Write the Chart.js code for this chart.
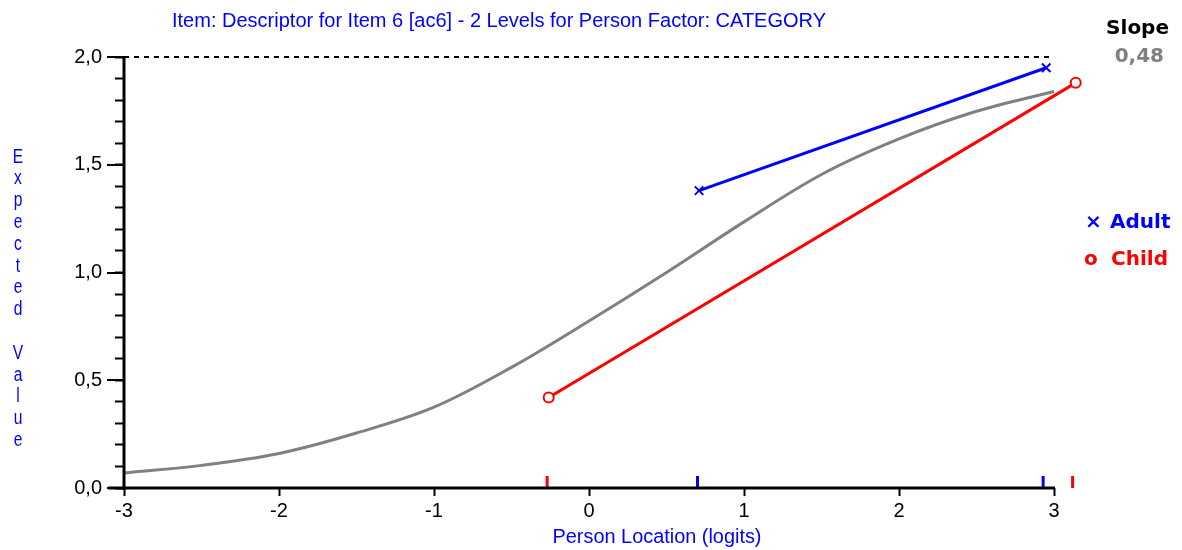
<!DOCTYPE html>
<html lang="en">
<head>
<meta charset="utf-8">
<title>Item 6 [ac6] - CATEGORY</title>
<script src="https://cdn.jsdelivr.net/npm/chart.js@4.4.1/dist/chart.umd.min.js"></script>
<style>
    html, body { margin: 0; padding: 0; background: #fff; }
    canvas { display: block; }
</style>
</head>
<body>
<canvas id="grafico-icc" width="1182" height="550"></canvas>
<script>
/* Dados (curva esperada + médias por grupo) */
const curvaX = [-3, -2.5, -2, -1.5, -1, -0.5, 0, 0.5, 1, 1.5, 2, 2.5, 3];
const curvaY = [0.07, 0.105, 0.16, 0.255, 0.375, 0.56, 0.775, 1.0, 1.235, 1.455, 1.62, 1.748, 1.84];

const adultoX = [0.71, 2.95];
const adultoY = [1.38, 1.95];
const criancaX = [-0.26, 3.14];
const criancaY = [0.42, 1.88];

// marcas coloridas sobre o eixo x
const marcasAdulto = [0.70, 2.93];
const marcasCrianca = [-0.27, 3.12];

const ticksX = [-3, -2, -1, 0, 1, 2, 3];
const ticksY = [0, 0.1, 0.2, 0.3, 0.4, 0.5, 0.6, 0.7, 0.8, 0.9, 1.0, 1.1, 1.2, 1.3, 1.4, 1.5, 1.6, 1.7, 1.8, 1.9, 2.0];
const ticksYPrincipais = [0, 0.5, 1.0, 1.5, 2.0];
const limiteSuperior = [2, 2];

const titulo = 'Item: Descriptor for Item 6 [ac6] - 2 Levels for Person Factor: CATEGORY';
const tituloX = 'Person Location (logits)';
const tituloY = 'Expected Value';
const inclinacao = '0,48';
const grupos = ['Adult', 'Child'];

const AZUL = '#0000FF';
const VERMELHO = '#FF0000';
const CINZA = '#808080';
const FONTE_TICK = "'Liberation Sans', Arial, sans-serif";

const pares = (xs, ys) => xs.map((x, i) => ({ x: x, y: ys[i] }));
const formatarY = v => v.toFixed(1).replace('.', ',');
const ehPrincipal = v => ticksYPrincipais.some(p => Math.abs(p - v) < 1e-6);

// escreve o texto centrado, comprimido na horizontal até a largura pedida
function textoAjustado(ctx, texto, cx, cy, largura) {
    const medida = ctx.measureText(texto).width;
    ctx.save();
    ctx.translate(cx, cy);
    ctx.scale(largura / medida, 1);
    ctx.textAlign = 'center';
    ctx.fillText(texto, 0, 0);
    ctx.restore();
}

/* Plugin: eixos grossos, títulos e legenda à direita */
const pluginDecoracao = {
    id: 'decoracao',
    afterDraw(chart) {
        const ctx = chart.ctx;
        const area = chart.chartArea;
        const sx = chart.scales.x;
        const sy = chart.scales.y;
        ctx.save();

        // eixo y
        ctx.strokeStyle = '#000';
        ctx.lineWidth = 3;
        ctx.beginPath();
        ctx.moveTo(area.left, sy.getPixelForValue(2) - 1);
        ctx.lineTo(area.left, area.bottom + 2);
        ctx.stroke();

        // eixo x (até 3)
        ctx.beginPath();
        ctx.moveTo(area.left - 16, area.bottom);
        ctx.lineTo(sx.getPixelForValue(3) + 1, area.bottom);
        ctx.stroke();

        // ticks principais do eixo y mais longos
        ctx.lineWidth = 2;
        ticksYPrincipais.forEach(v => {
            const py = Math.round(sy.getPixelForValue(v));
            ctx.beginPath();
            ctx.moveTo(area.left - 17, py);
            ctx.lineTo(area.left, py);
            ctx.stroke();
        });

        // título e título do eixo x
        ctx.fillStyle = AZUL;
        ctx.textBaseline = 'middle';
        ctx.font = "20px 'Liberation Sans', Arial, sans-serif";
        textoAjustado(ctx, titulo, 499, 21, 654);
        textoAjustado(ctx, tituloX, 657, 537, 209);

        // título do eixo y, letra por letra
        tituloY.split('').forEach((letra, i) => {
            if (letra === ' ') return;
            textoAjustado(ctx, letra, 18, 157 + i * 21.8, ctx.measureText(letra).width * 0.78);
        });

        // legenda
        ctx.font = "bold 20px 'DejaVu Sans', sans-serif";
        ctx.textAlign = 'right';
        ctx.fillStyle = '#000';
        ctx.fillText('Slope', 1169, 29);
        ctx.fillStyle = CINZA;
        ctx.fillText(inclinacao, 1164, 57);

        ctx.textAlign = 'left';
        ctx.fillStyle = AZUL;
        ctx.fillText('\u00d7', 1085, 223);
        ctx.fillText(grupos[0], 1110, 223);
        ctx.fillStyle = VERMELHO;
        ctx.fillText('o', 1084, 260);
        ctx.fillText(grupos[1], 1111, 260);

        ctx.restore();
    }
};

function inicializarGrafico() {
    const canvas = document.getElementById('grafico-icc');

    new Chart(canvas, {
        type: 'line',
        data: {
            datasets: [
                {
                    label: grupos[0],
                    data: pares(adultoX, adultoY),
                    borderColor: AZUL,
                    borderWidth: 3,
                    pointStyle: 'crossRot',
                    pointRadius: 6,
                    pointBorderWidth: 2,
                    pointBorderColor: AZUL,
                    clip: false
                },
                {
                    label: grupos[1],
                    data: pares(criancaX, criancaY),
                    borderColor: VERMELHO,
                    borderWidth: 3,
                    pointStyle: 'circle',
                    pointRadius: 5,
                    pointBorderWidth: 2,
                    pointBorderColor: VERMELHO,
                    pointBackgroundColor: '#fff',
                    clip: false
                },
                {
                    label: 'marcas adulto',
                    data: marcasAdulto.map(x => ({ x: x, y: 0.028 })),
                    showLine: false,
                    pointStyle: 'line',
                    rotation: 90,
                    pointRadius: 6,
                    pointBorderWidth: 3,
                    pointBorderColor: AZUL,
                    clip: false
                },
                {
                    label: 'marcas criança',
                    data: marcasCrianca.map(x => ({ x: x, y: 0.028 })),
                    showLine: false,
                    pointStyle: 'line',
                    rotation: 90,
                    pointRadius: 6,
                    pointBorderWidth: 3,
                    pointBorderColor: VERMELHO,
                    clip: false
                },
                {
                    label: 'esperado',
                    data: pares(curvaX, curvaY),
                    borderColor: CINZA,
                    borderWidth: 3,
                    tension: 0.35,
                    pointRadius: 0
                },
                {
                    label: 'máximo',
                    data: pares([-3, 3], limiteSuperior),
                    borderColor: '#000',
                    borderWidth: 2,
                    borderDash: [5, 5],
                    pointRadius: 0,
                    clip: false
                }
            ]
        },
        options: {
            responsive: false,
            animation: false,
            layout: { padding: { top: 57, right: 97, left: 0, bottom: 0 } },
            plugins: {
                legend: { display: false },
                tooltip: { enabled: false }
            },
            scales: {
                x: {
                    type: 'linear',
                    min: -3,
                    max: 3.2,
                    afterBuildTicks: s => { s.ticks = ticksX.map(v => ({ value: v })); },
                    afterFit: s => { s.height = 62; },
                    border: { display: false },
                    grid: {
                        drawOnChartArea: false,
                        tickLength: 8,
                        tickWidth: 2,
                        tickColor: '#000'
                    },
                    ticks: {
                        color: '#000',
                        padding: 3,
                        maxRotation: 0,
                        autoSkip: false,
                        font: { family: FONTE_TICK, size: 20 },
                        callback: v => String(v)
                    }
                },
                y: {
                    type: 'linear',
                    min: 0,
                    max: 2,
                    afterBuildTicks: s => { s.ticks = ticksY.map(v => ({ value: v })); },
                    afterFit: s => { s.width = 124; },
                    border: { display: false },
                    grid: {
                        drawOnChartArea: false,
                        tickLength: 9,
                        tickWidth: 2,
                        tickColor: '#000'
                    },
                    ticks: {
                        color: '#000',
                        padding: 13,
                        autoSkip: false,
                        font: { family: FONTE_TICK, size: 20 },
                        callback: v => ehPrincipal(v) ? formatarY(v) : ''
                    }
                }
            }
        },
        plugins: [pluginDecoracao]
    });
}

inicializarGrafico();
</script>
</body>
</html>
